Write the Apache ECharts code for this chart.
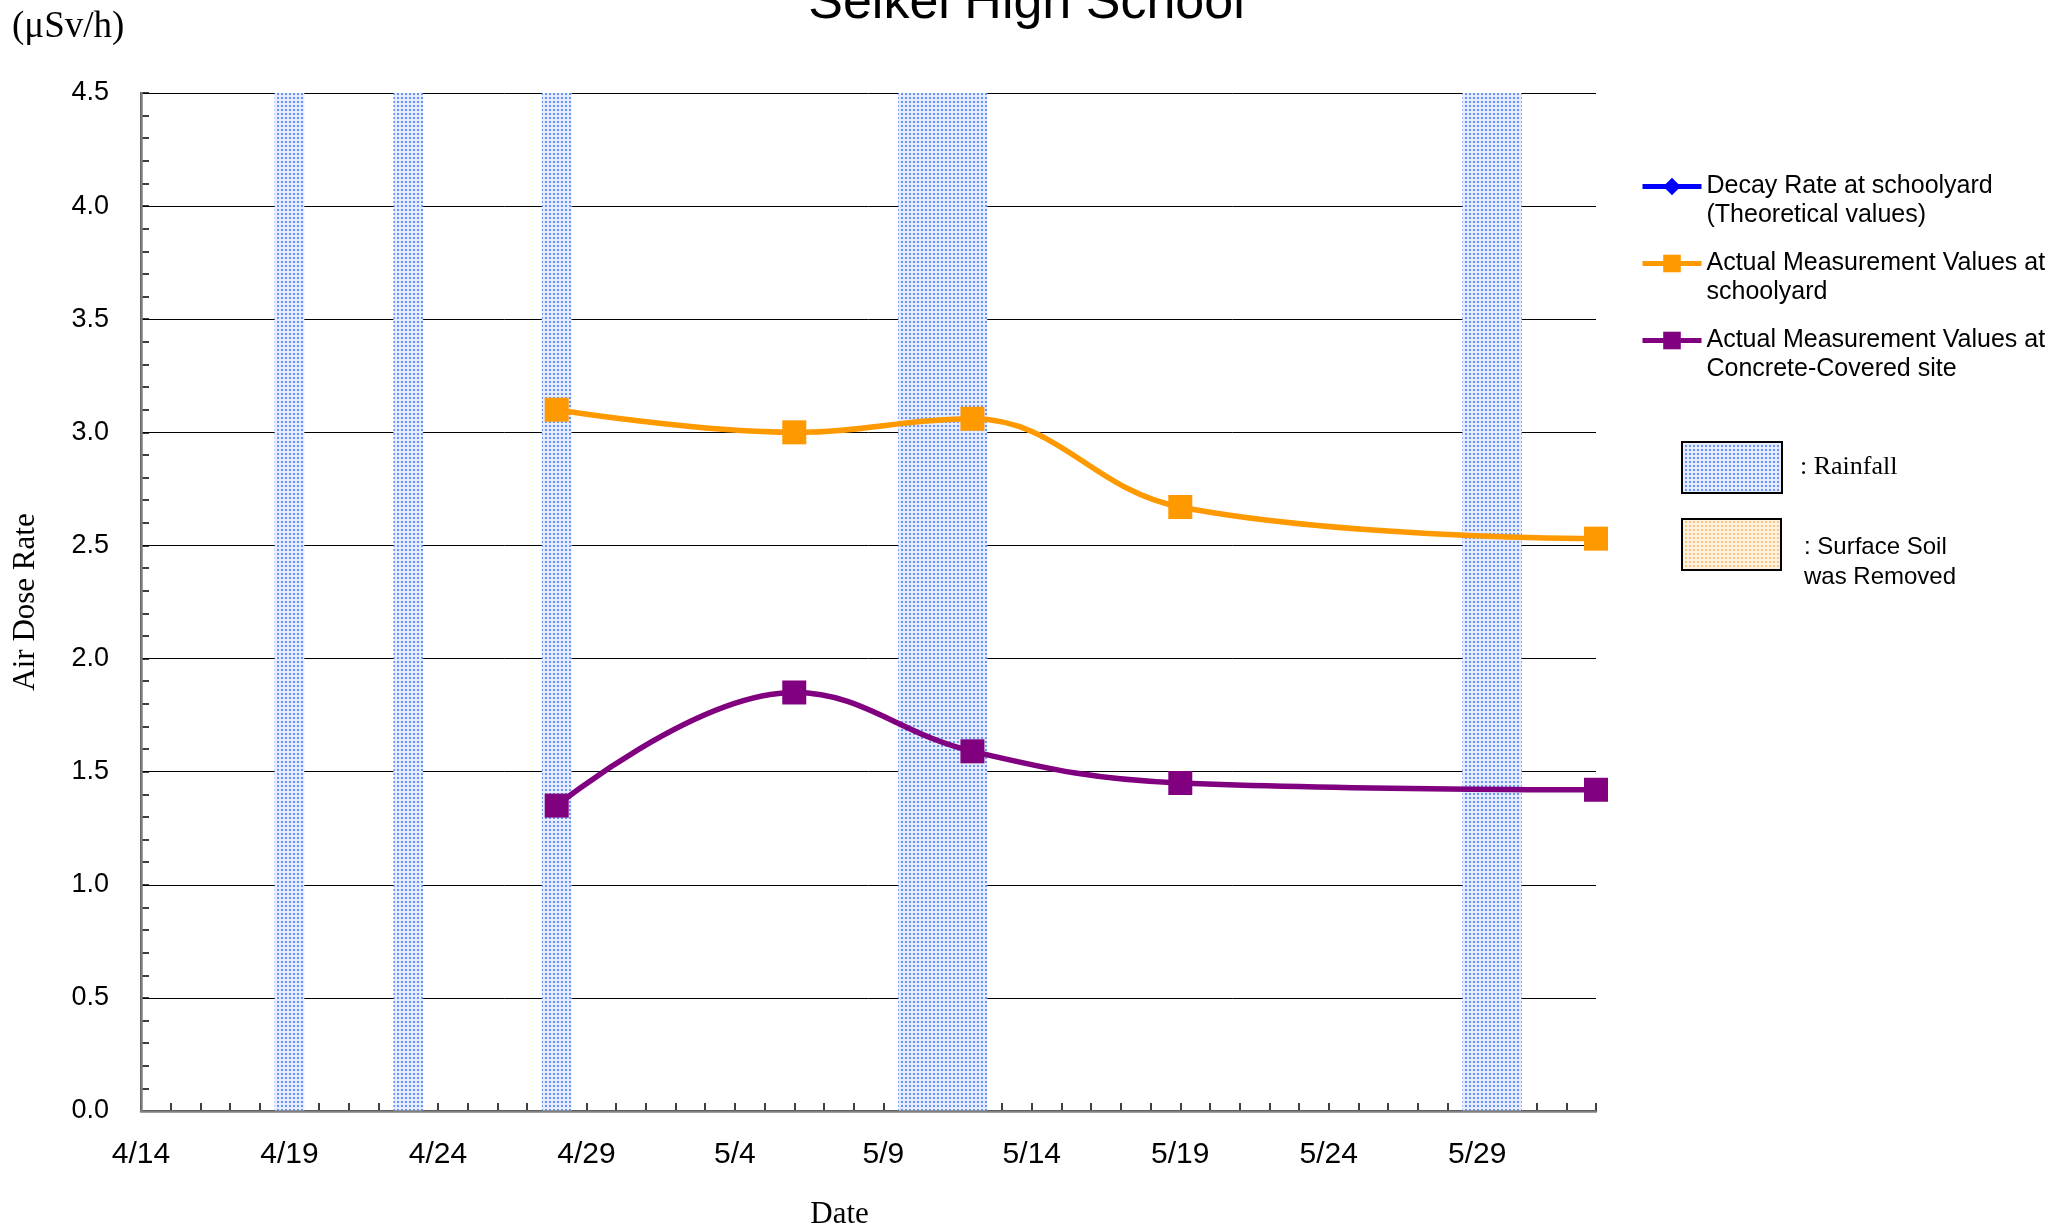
<!DOCTYPE html>
<html>
<head>
<meta charset="utf-8">
<script src="https://cdn.jsdelivr.net/npm/echarts@6/dist/echarts.min.js"></script>
<style>
html,body{margin:0;padding:0;background:#fff;overflow:hidden;}
#chart{width:2053px;height:1227px;}
</style>
</head>
<body>
<div id="chart"></div>
<script>
// ---------- data ----------
const titleText = 'Seikei High School';
const unitText = '(μSv/h)';
const yAxisTitle = 'Air Dose Rate';
const xAxisTitle = 'Date';
const axisStart = '4/14';
const axisEnd = '6/2';
const yTicks = [0, 0.5, 1.0, 1.5, 2.0, 2.5, 3.0, 3.5, 4.0, 4.5];

const seriesNames = [
  'Decay Rate at schoolyard\n(Theoretical values)',
  'Actual Measurement Values at\nschoolyard',
  'Actual Measurement Values at\nConcrete-Covered site'
];
const decayDates = [];
const decayValues = [];
const measureDates = ['4/28', '5/6', '5/12', '5/19', '6/2'];
const schoolyardValues = [3.10, 3.00, 3.06, 2.67, 2.53];
const concreteValues = [1.35, 1.85, 1.59, 1.45, 1.42];
const rainfallDays = ['4/19', '4/23', '4/28', '5/10', '5/11', '5/12', '5/29', '5/30'];

// ---------- helpers ----------
const BASE = Date.UTC(2011, 3, 14);
const DAY = 86400000;
function dayIndex(s) {
  const p = s.split('/').map(Number);
  return Math.round((Date.UTC(2011, p[0] - 1, p[1]) - BASE) / DAY);
}
function dayLabel(v) {
  const dt = new Date(BASE + v * DAY);
  return (dt.getUTCMonth() + 1) + '/' + dt.getUTCDate();
}
function pairs(dates, vals) { return dates.map((d, i) => [dayIndex(d), vals[i]]); }
function runs(days) {
  const idx = days.map(dayIndex).sort((a, b) => a - b);
  const out = [];
  idx.forEach(v => {
    const last = out[out.length - 1];
    if (last && v === last[1] + 1) last[1] = v; else out.push([v, v]);
  });
  return out.map(r => [{ xAxis: r[0] - 0.5 }, { xAxis: r[1] + 0.5 }]);
}
function makePattern(bg, dot) {
  const c = document.createElement('canvas');
  c.width = 4; c.height = 4;
  const g = c.getContext('2d');
  g.fillStyle = bg; g.fillRect(0, 0, 4, 4);
  g.fillStyle = dot; g.fillRect(1, 1, 2, 2);
  return c;
}
const rainPat = makePattern('#e4ecfd', '#6a92f5');
const soilPat = makePattern('#fdf0de', '#f8c583');

const xMin = dayIndex(axisStart), xMax = dayIndex(axisEnd);
const SANS = '"Liberation Sans", Arial, sans-serif';
const SERIF = '"Liberation Serif", "Times New Roman", serif';

const chart = echarts.init(document.getElementById('chart'));
const option = {
  animation: false,
  backgroundColor: '#ffffff',
  title: {
    text: titleText, left: 'center', top: -27,
    textStyle: { fontFamily: SANS, fontSize: 52, fontWeight: 'normal', color: '#000' }
  },
  grid: { left: 141, right: 457, top: 93, bottom: 116, containLabel: false, outerBoundsMode: 'none' },
  legend: {
    orient: 'vertical', left: 1640, top: 143, padding: 0,
    itemWidth: 59, itemHeight: 22, itemGap: -10,
    data: seriesNames,
    formatter: n => '\n' + n,
    lineStyle: { width: 5 },
    textStyle: { fontFamily: SANS, fontSize: 25, lineHeight: 29, color: '#000' },
    selectedMode: false
  },
  xAxis: [{
    type: 'value', min: xMin, max: xMax, interval: 1,
    name: xAxisTitle, nameLocation: 'middle', nameGap: 88,
    nameTextStyle: { fontFamily: SERIF, fontSize: 31, color: '#000', padding: [0, 58, 0, 0] },
    axisLine: { show: true, onZero: false, lineStyle: { color: '#000', width: 2 } },
    axisTick: { show: true, inside: true, length: 8, lineStyle: { color: '#000', width: 1.5 } },
    axisLabel: {
      margin: 29, fontFamily: SANS, fontSize: 30, color: '#000',
      formatter: v => (v % 5 === 0 ? dayLabel(v) : '')
    },
    splitLine: { show: false }
  }, {
    type: 'value', position: 'top', min: xMin, max: xMax, z: 5,
    axisLine: { show: true, lineStyle: { color: '#808080', width: 2.5 } },
    axisTick: { show: false }, axisLabel: { show: false }, splitLine: { show: false }
  }],
  yAxis: [{
    type: 'value', min: yTicks[0], max: yTicks[yTicks.length - 1], interval: 0.5,
    name: yAxisTitle, nameLocation: 'middle', nameGap: 100, nameRotate: 90,
    nameTextStyle: { fontFamily: SERIF, fontSize: 31, color: '#000' },
    axisLine: { show: true, lineStyle: { color: '#222', width: 2 } },
    axisTick: { show: true, inside: true, length: 8, lineStyle: { color: '#000', width: 1.5 } },
    minorTick: { show: true, splitNumber: 5, length: 8, lineStyle: { color: '#000', width: 1.5 } },
    axisLabel: { margin: 32, fontFamily: SANS, fontSize: 27, color: '#000', formatter: v => v.toFixed(1) },
    splitLine: { show: true, lineStyle: { color: '#000', width: 1 } }
  }, {
    type: 'value', position: 'right', min: 0, max: 4.5, z: 5,
    axisLine: { show: true, lineStyle: { color: '#808080', width: 2.5 } },
    axisTick: { show: false }, axisLabel: { show: false }, splitLine: { show: false }
  }],
  series: [
    {
      name: 'rainfall', type: 'line', data: [], z: 1, silent: true,
      markArea: {
        silent: true,
        itemStyle: { color: { image: rainPat, repeat: 'repeat' }, opacity: 1 },
        data: runs(rainfallDays)
      }
    },
    {
      name: seriesNames[0], type: 'line', data: pairs(decayDates, decayValues),
      symbol: 'diamond', symbolSize: 18, color: '#0000ff',
      lineStyle: { width: 5.5, color: '#0000ff' }, itemStyle: { color: '#0000ff' }, z: 3
    },
    {
      name: seriesNames[1], type: 'line', data: pairs(measureDates, schoolyardValues),
      smooth: 0.4, symbol: 'rect', symbolSize: 24, color: '#ff9900',
      lineStyle: { width: 5.5, color: '#ff9900' }, itemStyle: { color: '#ff9900' }, z: 3
    },
    {
      name: seriesNames[2], type: 'line', data: pairs(measureDates, concreteValues),
      smooth: 0.4, symbol: 'rect', symbolSize: 24, color: '#800080',
      lineStyle: { width: 5.5, color: '#800080' }, itemStyle: { color: '#800080' }, z: 3
    }
  ],
  graphic: [
    { type: 'text', x: 12, y: 27,
      style: { text: unitText, font: '37px ' + SERIF, fill: '#000', verticalAlign: 'middle' } },
    { type: 'rect', shape: { x: 1682, y: 442, width: 100, height: 51 },
      style: { fill: { image: rainPat, repeat: 'repeat' }, stroke: '#000', lineWidth: 2 } },
    { type: 'text', x: 1800, y: 467,
      style: { text: ': Rainfall', font: '26px ' + SERIF, fill: '#000', verticalAlign: 'middle' } },
    { type: 'rect', shape: { x: 1682, y: 519, width: 99, height: 51 },
      style: { fill: { image: soilPat, repeat: 'repeat' }, stroke: '#000', lineWidth: 2 } },
    { type: 'text', x: 1804, y: 562,
      style: { text: ': Surface Soil\nwas Removed', font: '24px ' + SANS, lineHeight: 30, fill: '#000', verticalAlign: 'middle' } }
  ]
};
chart.setOption(option);
</script>
</body>
</html>
